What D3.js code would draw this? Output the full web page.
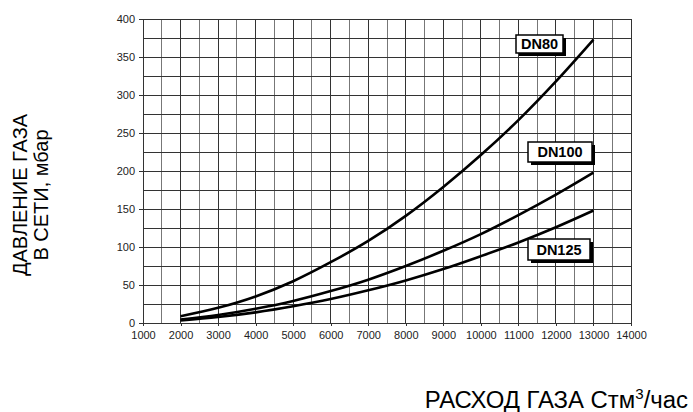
<!DOCTYPE html>
<html><head><meta charset="utf-8">
<script src="https://cdn.jsdelivr.net/npm/d3@7"></script>
<style>body{margin:0;background:#fff}svg{display:block}</style>
</head><body><svg id="c" width="693" height="412"></svg>
<script>
const flow = [2000,3000,4000,5000,6000,7000,8000,9000,10000,11000,12000,13000];
const dn80  = [9,20,35,55,80,108,141,179,221,267,318,373];
const dn100 = [4.7,10.5,18.7,29,42,57,75,95,117,142,169,198];
const dn125 = [3.5,7.9,14,22,31.5,43,56,71,88,106,126,148];
const seriesNames = ["DN80","DN100","DN125"];
const xTicks = d3.range(1000,14001,1000);
const yTicks = d3.range(0,401,50);

const FONT = "Arial, 'Liberation Sans', sans-serif";
const svg = d3.select("#c");
const x = d3.scaleLinear().domain([1000,14000]).range([143,631]);
const y = d3.scaleLinear().domain([0,400]).range([323,19]);

// grid
const g = svg.append("g");
g.selectAll("line.v").data(d3.range(1500,14001,500)).enter().append("line")
  .attr("x1",d=>x(d)).attr("x2",d=>x(d)).attr("y1",y(0)).attr("y2",y(400))
  .attr("stroke",d=>d%1000===0?"#333":"#777").attr("stroke-width",1).attr("shape-rendering","crispEdges");
g.selectAll("line.h").data(d3.range(25,401,25)).enter().append("line")
  .attr("y1",d=>y(d)).attr("y2",d=>y(d)).attr("x1",x(1000)).attr("x2",x(14000))
  .attr("stroke","#333").attr("stroke-width",1).attr("shape-rendering","crispEdges");

// axes
const yAxis = d3.axisLeft(y).tickValues(yTicks).tickFormat(d3.format("d")).tickSize(4).tickPadding(4);
const xAxis = d3.axisBottom(x).tickValues(xTicks).tickFormat(d3.format("d")).tickSize(3).tickPadding(5);
const ya = svg.append("g").attr("transform",`translate(${x(1000)},0)`).call(yAxis);
const xa = svg.append("g").attr("transform",`translate(0,${y(0)})`).call(xAxis);
[ya,xa].forEach(a=>{
  a.select(".domain").attr("stroke","#333").attr("shape-rendering","crispEdges");
  a.selectAll(".tick line").attr("stroke","#333").attr("shape-rendering","crispEdges");
  a.selectAll("text").attr("font-family",FONT).attr("font-size",11).attr("fill","#222");
});

// curves
const line = d3.line().x((d,i)=>x(flow[i])).y(d=>y(d)).curve(d3.curveMonotoneX);
[dn80,dn100,dn125].forEach(s=>{
  svg.append("path").attr("d",line(s)).attr("fill","none").attr("stroke","#000").attr("stroke-width",2.6);
});

// labels
const labelPos = [[516,35,47,18],[528,142,64,20],[528,239,62,21]];
seriesNames.forEach((n,i)=>{
  const [lx,ly,w,h]=labelPos[i];
  svg.append("rect").attr("x",lx+3).attr("y",ly+3).attr("width",w).attr("height",h).attr("fill","#000");
  svg.append("rect").attr("x",lx).attr("y",ly).attr("width",w).attr("height",h).attr("fill","#fff").attr("stroke","#000").attr("stroke-width",1.5);
  svg.append("text").attr("x",lx+w/2).attr("y",ly+h/2+5).attr("text-anchor","middle")
    .attr("font-family",FONT).attr("font-weight","bold").attr("font-size",14.5).text(n);
});

// titles
const yt = svg.append("text").attr("transform","translate(0,195) rotate(-90)")
  .attr("text-anchor","middle").attr("font-family",FONT).attr("font-size",20).attr("fill","#000");
yt.append("tspan").attr("x",0).attr("y",27).text("ДАВЛЕНИЕ ГАЗА");
yt.append("tspan").attr("x",0).attr("y",48).text("В СЕТИ, мбар");

const xt = svg.append("text").attr("transform","translate(688,408) scale(1.04,1)").attr("text-anchor","end")
  .attr("font-family",FONT).attr("font-size",23).attr("fill","#000");
xt.append("tspan").text("РАСХОД ГАЗА Стм");
xt.append("tspan").attr("font-size",14.5).attr("dy",-9.5).text("3");
xt.append("tspan").attr("dy",9.5).text("/час");
</script></body></html>
